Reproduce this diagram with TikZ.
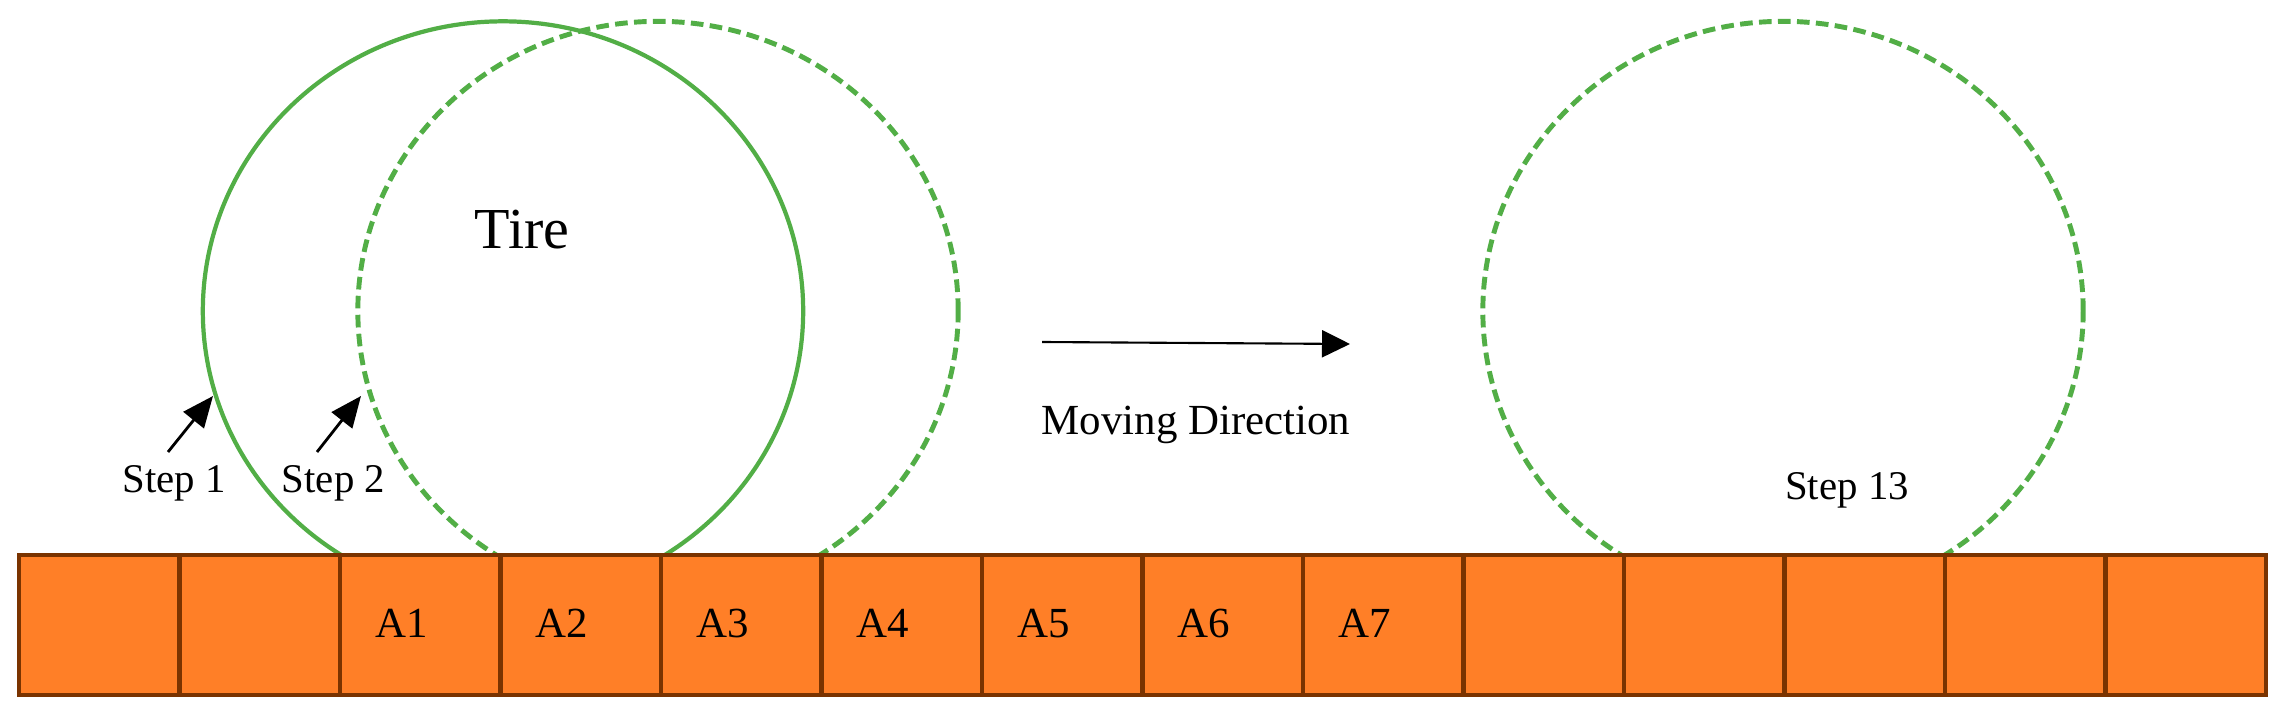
\documentclass[tikz,border=0pt]{standalone}
\usepackage{fontspec}
\setmainfont{Liberation Serif}
\usetikzlibrary{arrows.meta,shapes.geometric}
\definecolor{tgreen}{RGB}{82,174,70}
\definecolor{cellfill}{HTML}{FF7F27}
\definecolor{cellline}{HTML}{7A3300}
\begin{document}
\begin{tikzpicture}[x=0.01cm,y=-0.01cm,
  tirebox/.style={ellipse, draw=tgreen, line width=1.2pt, minimum width=6cm, minimum height=5.79cm, inner sep=0pt, outer sep=0pt},
  tiredash/.style={tirebox, line width=1.4pt, dash pattern=on 3.6pt off 1.8pt},
  cellbox/.style={rectangle, draw=cellline, fill=cellfill, line width=1.2pt, minimum width=1.605cm, minimum height=1.4cm, inner sep=0pt, outer sep=0pt},
  lbl/.style={font=\fontsize{12.2}{14}\selectfont, anchor=base, inner sep=0pt},
  steplbl/.style={font=\fontsize{11.6}{14}\selectfont, anchor=base, inner sep=0pt},
  ptr/.style={line width=0.8pt, -{Triangle[length=0.31cm,width=0.26cm]}},
  mvptr/.style={line width=0.6pt, -{Triangle[length=0.28cm,width=0.27cm]}}]
\useasboundingbox (0,0) rectangle (2295,719);
% tires
\node[tirebox] (tire1) at (503,311) {};
\node[tiredash] (tire2) at (658,311) {};
\node[tiredash] (tire3) at (1783,311) {};
\node[font=\fontsize{16.5}{20}\selectfont, anchor=base, inner sep=0pt] (tirelbl) at (522,249) {Tire};
% road cells
\foreach \k in {1,...,14}
  \node[cellbox] (c\k) at ({19+160.5*(\k-0.5)},625) {};
\foreach \k in {1,...,7}
  \node[lbl] (a\k) at ({160.5*(\k+1.5)},637) {A\k};
% step labels and pointers
\node[steplbl] (step1) at (174,493) {Step 1};
\node[steplbl] (step2) at (333.5,493) {Step 2};
\node[steplbl] (step13) at (1847,500) {Step 13};
\coordinate (s1tail) at (168,452);
\coordinate (s1tip) at (213,396);
\coordinate (s2tail) at (317,452);
\coordinate (s2tip) at (361,396);
\draw[ptr] (s1tail) -- (s1tip);
\draw[ptr] (s2tail) -- (s2tip);
% moving direction
\coordinate (mdtail) at (1042,342);
\coordinate (mdtip) at (1350,344);
\draw[mvptr] (mdtail) -- (mdtip);
\node[font=\fontsize{12.2}{14}\selectfont, anchor=base, inner sep=0pt] (move) at (1196,435) {Moving Direction};
\end{tikzpicture}
\end{document}
